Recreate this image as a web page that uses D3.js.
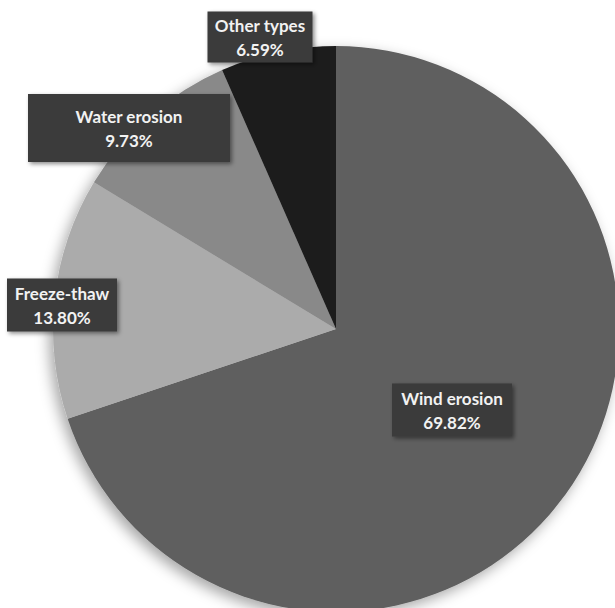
<!DOCTYPE html>
<html><head><meta charset="utf-8">
<script src="https://cdn.jsdelivr.net/npm/d3@7"></script>
<style>body{margin:0;background:#fff;overflow:hidden}</style>
</head><body>
<svg id="chart" width="615" height="608"></svg>
<script>
const categories = ["Wind erosion", "Freeze-thaw", "Water erosion", "Other types"];
const values = [69.82, 13.80, 9.73, 6.59];
const valueLabels = ["69.82%", "13.80%", "9.73%", "6.59%"];
const colors = ["#5f5f5f", "#ababab", "#898989", "#1f1f1f"];
// label box layout: center x, center y, width, height
const boxes = [[452, 410, 120, 53], [62, 305, 110, 53], [129, 128, 202, 68], [260, 37, 105, 51]];

const svg = d3.select("#chart");
const defs = svg.append("defs");
const f1 = defs.append("filter").attr("id","pieShadow").attr("x","-20%").attr("y","-20%").attr("width","140%").attr("height","140%");
f1.append("feDropShadow").attr("dx",-4).attr("dy",5).attr("stdDeviation",7).attr("flood-color","#000").attr("flood-opacity",0.35);
const f2 = defs.append("filter").attr("id","boxShadow").attr("x","-20%").attr("y","-30%").attr("width","140%").attr("height","160%");
f2.append("feDropShadow").attr("dx",2).attr("dy",2).attr("stdDeviation",2).attr("flood-color","#000").attr("flood-opacity",0.45);

const cx = 336, cy = 329, R = 283;
const pie = d3.pie().sort(null).value(d => d);
const arcs = pie(values);
const arc = d3.arc().innerRadius(0).outerRadius(R);
const g = svg.append("g").attr("transform", `translate(${cx},${cy})`).attr("filter","url(#pieShadow)");
g.selectAll("path").data(arcs).join("path")
  .attr("d", arc).attr("fill", (d,i) => colors[i]);

const lg = svg.append("g");
categories.forEach((c, i) => {
  const [bx, by, bw, bh] = boxes[i];
  lg.append("rect").attr("x", bx - bw/2).attr("y", by - bh/2).attr("width", bw).attr("height", bh)
    .attr("fill", "#3b3b3b").attr("filter","url(#boxShadow)");
  const t = lg.append("text").attr("text-anchor","middle")
    .attr("font-family","Lato, 'Open Sans', sans-serif").attr("font-weight","700")
    .attr("font-size",17).attr("fill","#f2f2f2");
  t.append("tspan").attr("x", bx).attr("y", by - 5).text(c);
  t.append("tspan").attr("x", bx).attr("y", by + 19).text(valueLabels[i]);
});
</script>
</body></html>
